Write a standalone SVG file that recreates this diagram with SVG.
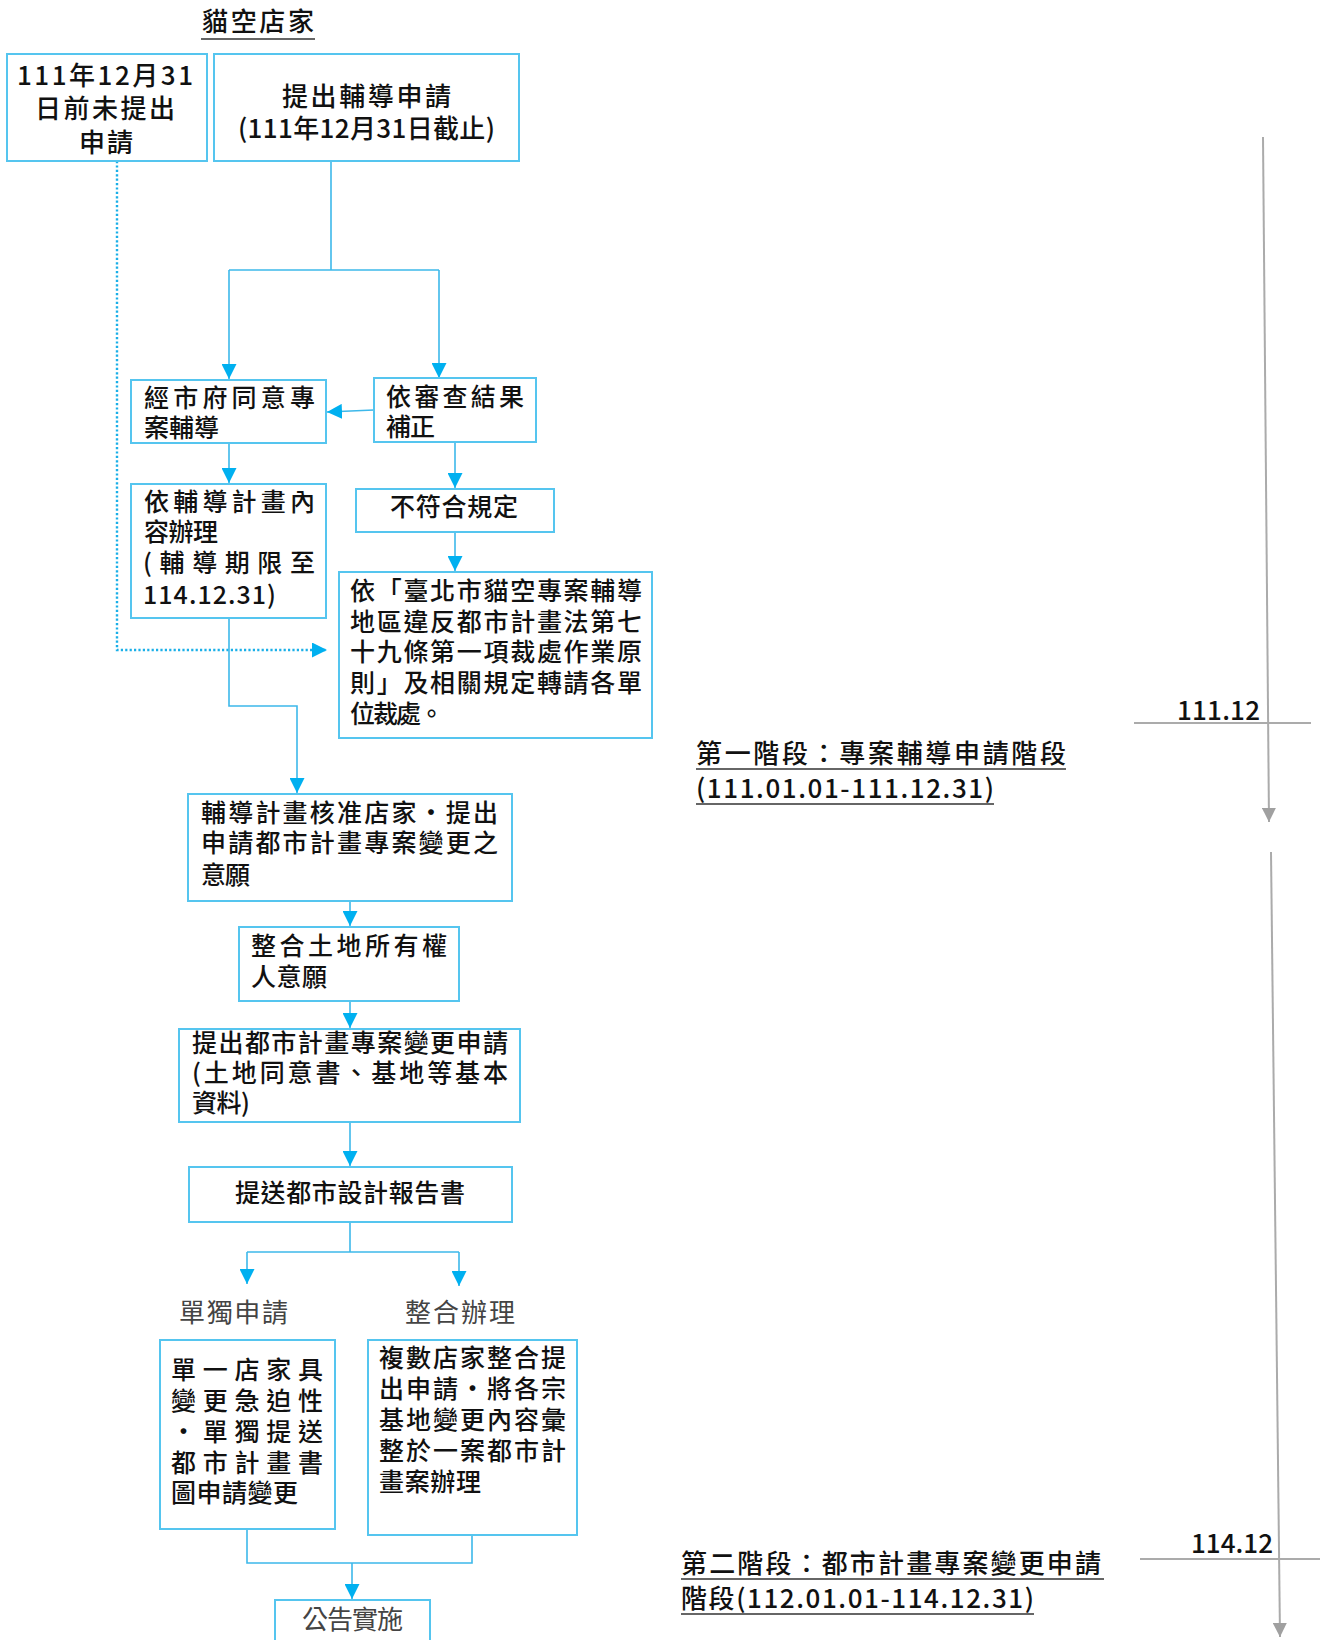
<svg xmlns="http://www.w3.org/2000/svg" width="1323" height="1640" viewBox="0 0 1323 1640">
<style>
text{font-family:"Noto Sans CJK TC","Noto Sans CJK SC",sans-serif;fill:#111;font-size:25px;font-weight:500}
.box{fill:#fff;stroke:#55C5EF;stroke-width:2}
.con{fill:none;stroke:#3DB8EA;stroke-width:1.6}
.dot{fill:none;stroke:#1AAFE8;stroke-width:2.4;stroke-dasharray:2.2 2.2}
.gray{fill:none;stroke:#ABABAB;stroke-width:2}
.ul{stroke:#333;stroke-width:1.5}
.lbl{fill:#444;font-size:26px;font-weight:400}
.big{font-size:26px}
</style>
<defs>
<marker id="ab" viewBox="0 0 10 10" refX="10" refY="5" markerUnits="userSpaceOnUse" markerWidth="15" markerHeight="15" orient="auto">
<path d="M0,0 L10,5 L0,10 z" fill="#00B0F0"/>
</marker>
<marker id="ag" viewBox="0 0 10 10" refX="10" refY="5" markerUnits="userSpaceOnUse" markerWidth="14" markerHeight="14" orient="auto">
<path d="M0,0 L10,5 L0,10 z" fill="#A0A0A0"/>
</marker>
</defs>

<g id="title">
<text x="202" y="31" class="big" textLength="112" lengthAdjust="spacing">貓空店家</text>
<line class="ul" x1="201" y1="39" x2="315" y2="39"/>
</g>

<g id="connectors">
<polyline class="con" points="331,161 331,270"/>
<polyline class="con" points="229,270 439,270"/>
<polyline class="con" points="229,270 229,379" marker-end="url(#ab)"/>
<polyline class="con" points="439,270 439,378" marker-end="url(#ab)"/>
<polyline class="con" points="374,410 327,412" marker-end="url(#ab)"/>
<polyline class="con" points="229,443 229,483" marker-end="url(#ab)"/>
<polyline class="con" points="455,442 455,488" marker-end="url(#ab)"/>
<polyline class="con" points="455,532 455,571" marker-end="url(#ab)"/>
<polyline class="dot" points="117,161 117,650 327,650" marker-end="url(#ab)"/>
<polyline class="con" points="229,618 229,706 297,706 297,793" marker-end="url(#ab)"/>
<polyline class="con" points="350,901 350,926" marker-end="url(#ab)"/>
<polyline class="con" points="350,1001 350,1028" marker-end="url(#ab)"/>
<polyline class="con" points="350,1122 350,1166" marker-end="url(#ab)"/>
<polyline class="con" points="350,1222 350,1252"/>
<polyline class="con" points="247,1252 459,1252"/>
<polyline class="con" points="247,1252 247,1284" marker-end="url(#ab)"/>
<polyline class="con" points="459,1252 459,1286" marker-end="url(#ab)"/>
<polyline class="con" points="247,1529 247,1563 472,1563 472,1535"/>
<polyline class="con" points="352,1563 352,1599" marker-end="url(#ab)"/>
</g>

<g id="n1">
<rect class="box" x="7" y="54" width="200" height="107"/>
<text x="17" y="85" class="big" textLength="176" lengthAdjust="spacing">111年12月31</text>
<text x="35" y="118" class="big" textLength="140" lengthAdjust="spacing">日前未提出</text>
<text x="79" y="152" class="big" textLength="54" lengthAdjust="spacing">申請</text>
</g>

<g id="n2">
<rect class="box" x="214" y="54" width="305" height="107"/>
<text x="282" y="106" class="big" textLength="169" lengthAdjust="spacing">提出輔導申請</text>
<text x="238" y="138" class="big" textLength="257" lengthAdjust="spacing">(111年12月31日截止)</text>
</g>

<g id="n3">
<rect class="box" x="131" y="380" width="195" height="63"/>
<text x="144" y="407" textLength="171" lengthAdjust="spacing">經市府同意專</text>
<text x="144" y="437" textLength="75" lengthAdjust="spacing">案輔導</text>
</g>

<g id="n4">
<rect class="box" x="374" y="378" width="162" height="64"/>
<text x="386" y="406" textLength="138" lengthAdjust="spacing">依審查結果</text>
<text x="386" y="436" textLength="49" lengthAdjust="spacing">補正</text>
</g>

<g id="n5">
<rect class="box" x="131" y="484" width="195" height="134"/>
<text x="144" y="511" textLength="171" lengthAdjust="spacing">依輔導計畫內</text>
<text x="144" y="541" textLength="74" lengthAdjust="spacing">容辦理</text>
<text x="143" y="572" textLength="172" lengthAdjust="spacing">(輔導期限至</text>
<text x="143" y="604" textLength="133" lengthAdjust="spacing">114.12.31)</text>
</g>

<g id="n6">
<rect class="box" x="356" y="489" width="198" height="43"/>
<text x="390" y="516" textLength="128" lengthAdjust="spacing">不符合規定</text>
</g>

<g id="n7">
<rect class="box" x="339" y="572" width="313" height="166"/>
<text x="350" y="600" textLength="292" lengthAdjust="spacing">依「臺北市貓空專案輔導</text>
<text x="350" y="631" textLength="292" lengthAdjust="spacing">地區違反都市計畫法第七</text>
<text x="350" y="661" textLength="292" lengthAdjust="spacing">十九條第一項裁處作業原</text>
<text x="350" y="692" textLength="292" lengthAdjust="spacing">則」及相關規定轉請各單</text>
<text x="350" y="723" textLength="94" lengthAdjust="spacing">位裁處。</text>
</g>

<g id="n8">
<rect class="box" x="188" y="794" width="324" height="107"/>
<text x="201" y="822" textLength="297" lengthAdjust="spacing">輔導計畫核准店家‧提出</text>
<text x="201" y="852" textLength="297" lengthAdjust="spacing">申請都市計畫專案變更之</text>
<text x="201" y="884" textLength="49" lengthAdjust="spacing">意願</text>
</g>

<g id="n9">
<rect class="box" x="239" y="927" width="220" height="74"/>
<text x="251" y="955" textLength="196" lengthAdjust="spacing">整合土地所有權</text>
<text x="251" y="986" textLength="76" lengthAdjust="spacing">人意願</text>
</g>

<g id="n10">
<rect class="box" x="179" y="1029" width="341" height="93"/>
<text x="192" y="1052" textLength="316" lengthAdjust="spacing">提出都市計畫專案變更申請</text>
<text x="192" y="1082" textLength="316" lengthAdjust="spacing">(土地同意書、基地等基本</text>
<text x="192" y="1112" textLength="58" lengthAdjust="spacing">資料)</text>
</g>

<g id="n11">
<rect class="box" x="189" y="1167" width="323" height="55"/>
<text x="235" y="1202" textLength="230" lengthAdjust="spacing">提送都市設計報告書</text>
</g>

<g id="l1">
<text x="179" y="1322" class="lbl" textLength="109" lengthAdjust="spacing">單獨申請</text>
</g>
<g id="l2">
<text x="405" y="1322" class="lbl" textLength="110" lengthAdjust="spacing">整合辦理</text>
</g>

<g id="n12">
<rect class="box" x="160" y="1340" width="175" height="189"/>
<text x="171" y="1379" textLength="152" lengthAdjust="spacing">單一店家具</text>
<text x="171" y="1410" textLength="152" lengthAdjust="spacing">變更急迫性</text>
<text x="171" y="1441" textLength="152" lengthAdjust="spacing">‧單獨提送</text>
<text x="171" y="1472" textLength="152" lengthAdjust="spacing">都市計畫書</text>
<text x="171" y="1502" textLength="127" lengthAdjust="spacing">圖申請變更</text>
</g>

<g id="n13">
<rect class="box" x="368" y="1340" width="209" height="195"/>
<text x="379" y="1367" textLength="187" lengthAdjust="spacing">複數店家整合提</text>
<text x="379" y="1398" textLength="187" lengthAdjust="spacing">出申請‧將各宗</text>
<text x="379" y="1429" textLength="187" lengthAdjust="spacing">基地變更內容彙</text>
<text x="379" y="1460" textLength="187" lengthAdjust="spacing">整於一案都市計</text>
<text x="379" y="1491" textLength="102" lengthAdjust="spacing">畫案辦理</text>
</g>

<g id="n14">
<rect class="box" x="275" y="1600" width="155" height="60"/>
<text x="302" y="1629" class="lbl" textLength="101" lengthAdjust="spacing">公告實施</text>
</g>

<g id="timeline">
<line class="gray" x1="1263" y1="137" x2="1269" y2="822" marker-end="url(#ag)"/>
<line class="gray" x1="1134" y1="723" x2="1311" y2="723"/>
<text x="1177" y="720" class="big" textLength="83" lengthAdjust="spacing">111.12</text>
<line class="gray" x1="1271" y1="852" x2="1280" y2="1637" marker-end="url(#ag)"/>
<line class="gray" x1="1140" y1="1559" x2="1320" y2="1559"/>
<text x="1191" y="1553" class="big" textLength="82" lengthAdjust="spacing">114.12</text>
</g>

<g id="phase1">
<text x="696" y="763" class="big" textLength="370" lengthAdjust="spacing">第一階段：專案輔導申請階段</text>
<line class="ul" x1="696" y1="769" x2="1066" y2="769"/>
<text x="696" y="798" class="big" textLength="298" lengthAdjust="spacing">(111.01.01-111.12.31)</text>
<line class="ul" x1="696" y1="804" x2="994" y2="804"/>
</g>

<g id="phase2">
<text x="681" y="1573" class="big" textLength="420" lengthAdjust="spacing">第二階段：都市計畫專案變更申請</text>
<line class="ul" x1="681" y1="1579" x2="1104" y2="1579"/>
<text x="681" y="1608" class="big" textLength="353" lengthAdjust="spacing">階段(112.01.01-114.12.31)</text>
<line class="ul" x1="681" y1="1614" x2="1034" y2="1614"/>
</g>
</svg>
